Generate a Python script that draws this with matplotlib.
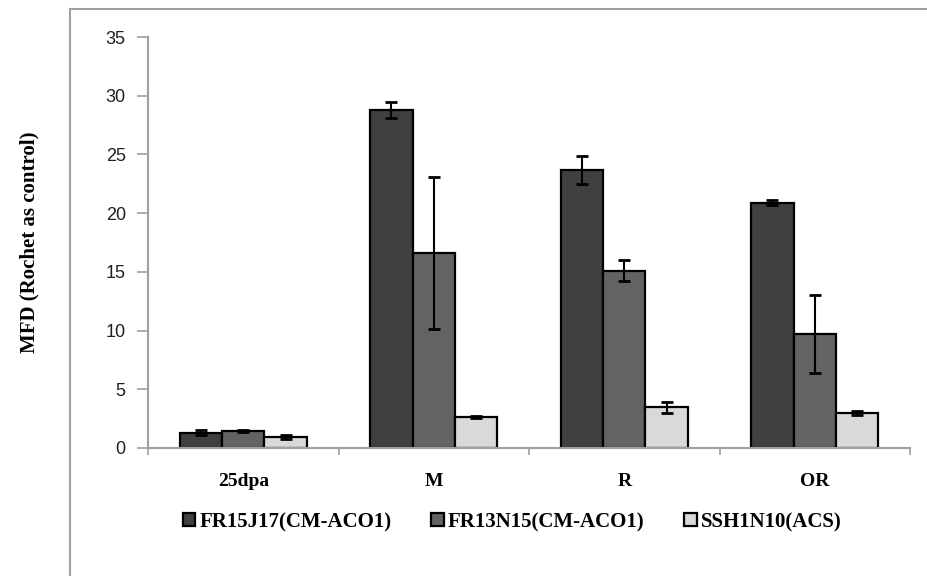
import matplotlib.pyplot as plt
from matplotlib.lines import Line2D
import numpy as np

categories = ["25dpa", "M", "R", "OR"]
series = ["FR15J17(CM-ACO1)", "FR13N15(CM-ACO1)", "SSH1N10(ACS)"]
values = [
    [1.3, 28.8, 23.7, 20.9],
    [1.45, 16.6, 15.1, 9.7],
    [0.95, 2.65, 3.45, 3.0],
]
errors = [
    [0.2, 0.7, 1.2, 0.2],
    [0.05, 6.5, 0.9, 3.3],
    [0.15, 0.1, 0.45, 0.15],
]
colors = ["#404040", "#636363", "#d9d9d9"]

serif = ["Liberation Serif", "DejaVu Serif"]
narrow = ["Liberation Sans Narrow", "Liberation Sans", "DejaVu Sans"]

fig = plt.figure(figsize=(9.28, 5.76), dpi=100)
ax = fig.add_axes([148 / 928, 1 - 448 / 576, 762 / 928, 411 / 576])

x = np.arange(len(categories))
w = 0.222
for i, name in enumerate(series):
    ax.bar(x + (i - 1) * w, values[i], w, color=colors[i], edgecolor="black",
           linewidth=1.6, label=name, zorder=2,
           yerr=errors[i], capsize=4.5,
           error_kw=dict(elinewidth=1.5, capthick=2, ecolor="black"))

ax.set_xlim(-0.5, len(categories) - 0.5)
ax.set_ylim(0, 35)
ax.set_yticks(range(0, 36, 5))
ax.set_xticks(x)
ax.set_xticklabels(categories, fontfamily=serif, fontweight="bold", fontsize=14)
ax.set_xticks(np.arange(-0.5, len(categories), 1), minor=True)
ax.tick_params(axis="x", which="major", length=0, pad=18)
ax.tick_params(axis="x", which="minor", length=5, color="#a0a0a0", width=1.2)
ax.tick_params(axis="y", length=8, color="#a0a0a0", width=1.2, pad=8)
for lab in ax.get_yticklabels():
    lab.set_family(narrow)
    lab.set_fontsize(13)
    lab.set_color("#202020")

for s in ["top", "right"]:
    ax.spines[s].set_visible(False)
for s in ["left", "bottom"]:
    ax.spines[s].set_color("#a0a0a0")
    ax.spines[s].set_linewidth(1.5)

ax.set_ylabel("MFD (Rochet as control)", fontfamily=serif, fontweight="bold",
              fontsize=15, labelpad=48)

fig.legend(loc="center", bbox_to_anchor=(0.552, 1 - 522 / 576), ncol=3,
           frameon=False, handlelength=0.6, handleheight=0.6, handletextpad=0.2,
           columnspacing=1.9, prop=dict(family=serif, weight="bold", size=15))

# outer chart frame
fig.add_artist(Line2D([70 / 928, 70 / 928], [0, 1 - 9 / 576], transform=fig.transFigure,
                      color="#a0a0a0", linewidth=1.5))
fig.add_artist(Line2D([70 / 928, 1], [1 - 9 / 576, 1 - 9 / 576], transform=fig.transFigure,
                      color="#a0a0a0", linewidth=1.5))

fig.savefig("out.png", dpi=100)
